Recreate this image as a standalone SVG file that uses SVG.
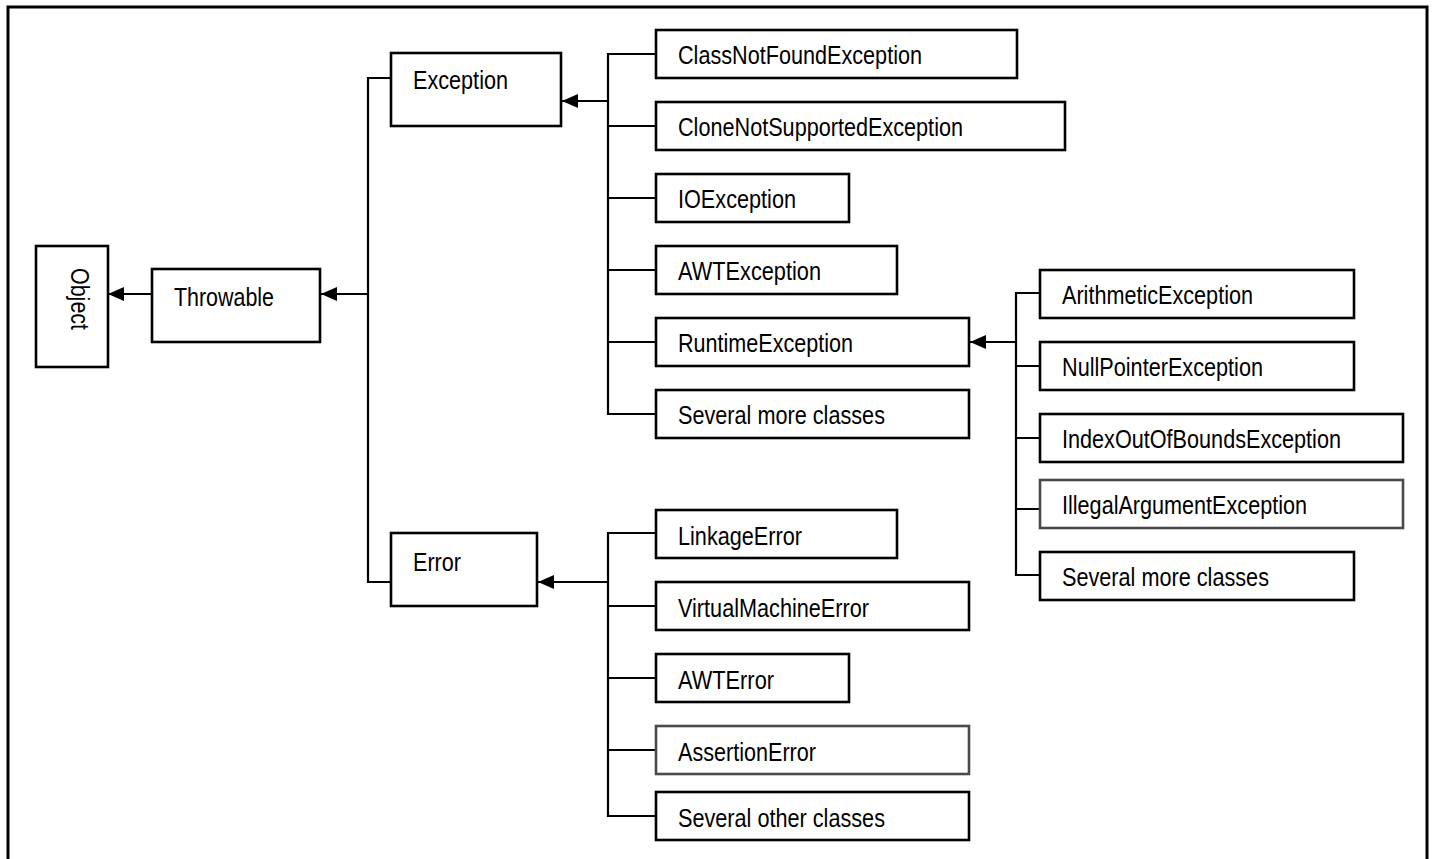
<svg xmlns="http://www.w3.org/2000/svg" width="1432" height="859" viewBox="0 0 1432 859">
<style>
.box{fill:#fff;stroke:#000;stroke-width:2.6}
.gray{stroke:#4a4a4a}
.t{font-family:"Liberation Sans Narrow","Liberation Sans",Arial,sans-serif;font-size:25px;fill:#000}
.c{fill:none;stroke:#000;stroke-width:2.2}
.frame{fill:none;stroke:#000;stroke-width:3}
</style>
<defs>
<marker id="ah" markerUnits="userSpaceOnUse" markerWidth="16" markerHeight="14" refX="16" refY="7" orient="auto">
<path d="M0,0 L16,7 L0,14 z" fill="#000"/>
</marker>
</defs>
<rect width="1432" height="859" fill="#fff"/>
<path class="frame" d="M8,859 V7 H1427 V859"/>

<g id="connectors">
<line class="c" x1="152" y1="294" x2="108" y2="294" marker-end="url(#ah)"/>
<line class="c" x1="368" y1="294" x2="321" y2="294" marker-end="url(#ah)"/>
<path class="c" d="M391,78 H368 V582 H391"/>
<line class="c" x1="608" y1="101" x2="562" y2="101" marker-end="url(#ah)"/>
<path class="c" d="M656,54 H608 V414 H656 M608,126 H656 M608,198 H656 M608,270 H656 M608,342 H656"/>
<line class="c" x1="1016" y1="342" x2="970" y2="342" marker-end="url(#ah)"/>
<path class="c" d="M1040,293 H1016 V575 H1040 M1016,366 H1040 M1016,438 H1040 M1016,509 H1040"/>
<line class="c" x1="608" y1="582" x2="538" y2="582" marker-end="url(#ah)"/>
<path class="c" d="M656,533 H608 V816 H656 M608,606 H656 M608,678 H656 M608,750 H656"/>
</g>

<g id="object">
<rect class="box" x="36" y="246" width="72" height="121"/>
<text class="t" transform="translate(71,268) rotate(90)" textLength="62" lengthAdjust="spacingAndGlyphs">Object</text>
</g>
<g id="throwable">
<rect class="box" x="152" y="269" width="168" height="73"/>
<text class="t" x="174" y="306" textLength="100" lengthAdjust="spacingAndGlyphs">Throwable</text>
</g>
<g id="exception">
<rect class="box" x="391" y="53" width="170" height="73"/>
<text class="t" x="413" y="89" textLength="95" lengthAdjust="spacingAndGlyphs">Exception</text>
</g>
<g id="error">
<rect class="box" x="391" y="533" width="146" height="73"/>
<text class="t" x="413" y="571" textLength="48" lengthAdjust="spacingAndGlyphs">Error</text>
</g>

<g id="classnotfound">
<rect class="box" x="656" y="30" width="361" height="48"/>
<text class="t" x="678" y="64" textLength="244" lengthAdjust="spacingAndGlyphs">ClassNotFoundException</text>
</g>
<g id="clonenotsupported">
<rect class="box" x="656" y="102" width="409" height="48"/>
<text class="t" x="678" y="136" textLength="285" lengthAdjust="spacingAndGlyphs">CloneNotSupportedException</text>
</g>
<g id="ioexception">
<rect class="box" x="656" y="174" width="193" height="48"/>
<text class="t" x="678" y="208" textLength="118" lengthAdjust="spacingAndGlyphs">IOException</text>
</g>
<g id="awtexception">
<rect class="box" x="656" y="246" width="241" height="48"/>
<text class="t" x="678" y="280" textLength="143" lengthAdjust="spacingAndGlyphs">AWTException</text>
</g>
<g id="runtimeexception">
<rect class="box" x="656" y="318" width="313" height="48"/>
<text class="t" x="678" y="352" textLength="175" lengthAdjust="spacingAndGlyphs">RuntimeException</text>
</g>
<g id="severalmore1">
<rect class="box" x="656" y="390" width="313" height="48"/>
<text class="t" x="678" y="424" textLength="207" lengthAdjust="spacingAndGlyphs">Several more classes</text>
</g>

<g id="arithmetic">
<rect class="box" x="1040" y="270" width="314" height="48"/>
<text class="t" x="1062" y="304" textLength="191" lengthAdjust="spacingAndGlyphs">ArithmeticException</text>
</g>
<g id="nullpointer">
<rect class="box" x="1040" y="342" width="314" height="48"/>
<text class="t" x="1062" y="376" textLength="201" lengthAdjust="spacingAndGlyphs">NullPointerException</text>
</g>
<g id="indexoutofbounds">
<rect class="box" x="1040" y="414" width="363" height="48"/>
<text class="t" x="1062" y="448" textLength="279" lengthAdjust="spacingAndGlyphs">IndexOutOfBoundsException</text>
</g>
<g id="illegalargument">
<rect class="box gray" x="1040" y="480" width="363" height="48"/>
<text class="t" x="1062" y="514" textLength="245" lengthAdjust="spacingAndGlyphs">IllegalArgumentException</text>
</g>
<g id="severalmore2">
<rect class="box" x="1040" y="552" width="314" height="48"/>
<text class="t" x="1062" y="586" textLength="207" lengthAdjust="spacingAndGlyphs">Several more classes</text>
</g>

<g id="linkageerror">
<rect class="box" x="656" y="510" width="241" height="48"/>
<text class="t" x="678" y="545" textLength="124" lengthAdjust="spacingAndGlyphs">LinkageError</text>
</g>
<g id="virtualmachineerror">
<rect class="box" x="656" y="582" width="313" height="48"/>
<text class="t" x="678" y="617" textLength="191" lengthAdjust="spacingAndGlyphs">VirtualMachineError</text>
</g>
<g id="awterror">
<rect class="box" x="656" y="654" width="193" height="48"/>
<text class="t" x="678" y="689" textLength="96" lengthAdjust="spacingAndGlyphs">AWTError</text>
</g>
<g id="assertionerror">
<rect class="box gray" x="656" y="726" width="313" height="48"/>
<text class="t" x="678" y="761" textLength="138" lengthAdjust="spacingAndGlyphs">AssertionError</text>
</g>
<g id="severalother">
<rect class="box" x="656" y="792" width="313" height="48"/>
<text class="t" x="678" y="827" textLength="207" lengthAdjust="spacingAndGlyphs">Several other classes</text>
</g>
</svg>
